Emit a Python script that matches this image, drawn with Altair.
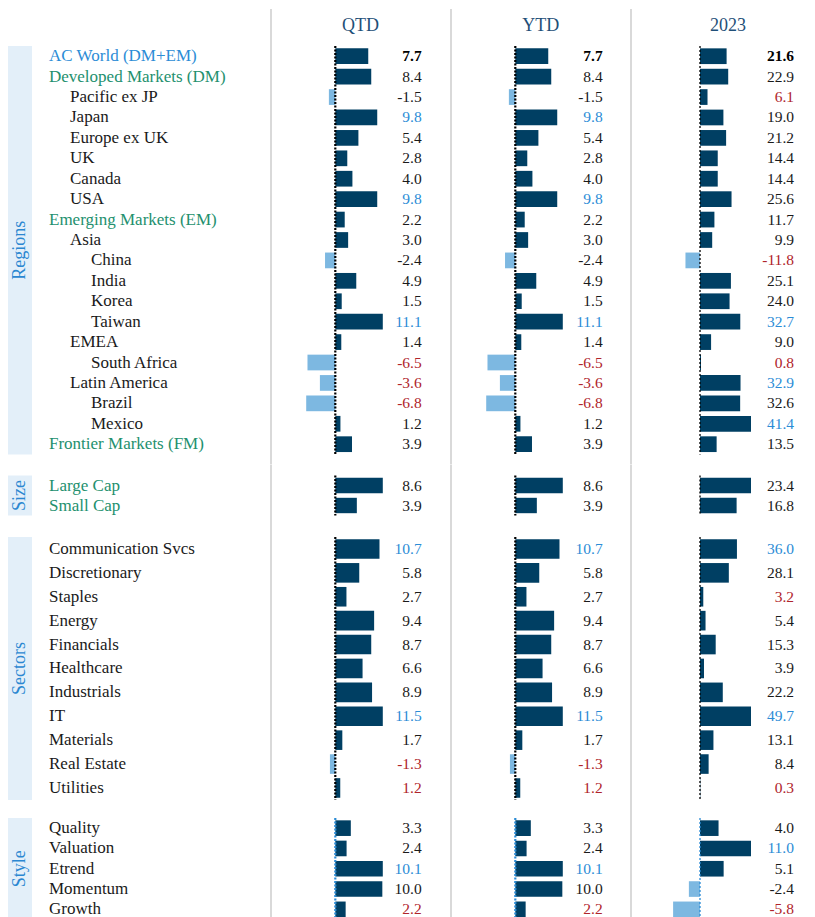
import altair as alt
import pandas as pd

# ---------------- data ----------------
periods = ["QTD", "YTD", "2023"]

region_names = ["AC World (DM+EM)", "Developed Markets (DM)", "Pacific ex JP", "Japan",
                "Europe ex UK", "UK", "Canada", "USA", "Emerging Markets (EM)", "Asia",
                "China", "India", "Korea", "Taiwan", "EMEA", "South Africa",
                "Latin America", "Brazil", "Mexico", "Frontier Markets (FM)"]
region_levels = [0, 0, 1, 1, 1, 1, 1, 1, 0, 1, 2, 2, 2, 2, 1, 2, 1, 2, 2, 0]
region_qtd = [7.7, 8.4, -1.5, 9.8, 5.4, 2.8, 4.0, 9.8, 2.2, 3.0, -2.4, 4.9, 1.5, 11.1,
              1.4, -6.5, -3.6, -6.8, 1.2, 3.9]
region_ytd = [7.7, 8.4, -1.5, 9.8, 5.4, 2.8, 4.0, 9.8, 2.2, 3.0, -2.4, 4.9, 1.5, 11.1,
              1.4, -6.5, -3.6, -6.8, 1.2, 3.9]
region_2023 = [21.6, 22.9, 6.1, 19.0, 21.2, 14.4, 14.4, 25.6, 11.7, 9.9, -11.8, 25.1,
               24.0, 32.7, 9.0, 0.8, 32.9, 32.6, 41.4, 13.5]

size_names = ["Large Cap", "Small Cap"]
size_levels = [0, 0]
size_qtd = [8.6, 3.9]
size_ytd = [8.6, 3.9]
size_2023 = [23.4, 16.8]

sector_names = ["Communication Svcs", "Discretionary", "Staples", "Energy", "Financials",
                "Healthcare", "Industrials", "IT", "Materials", "Real Estate", "Utilities"]
sector_levels = [0] * 11
sector_qtd = [10.7, 5.8, 2.7, 9.4, 8.7, 6.6, 8.9, 11.5, 1.7, -1.3, 1.2]
sector_ytd = [10.7, 5.8, 2.7, 9.4, 8.7, 6.6, 8.9, 11.5, 1.7, -1.3, 1.2]
sector_2023 = [36.0, 28.1, 3.2, 5.4, 15.3, 3.9, 22.2, 49.7, 13.1, 8.4, 0.3]

style_names = ["Quality", "Valuation", "Etrend", "Momentum", "Growth"]
style_levels = [0] * 5
style_qtd = [3.3, 2.4, 10.1, 10.0, 2.2]
style_ytd = [3.3, 2.4, 10.1, 10.0, 2.2]
style_2023 = [4.0, 11.0, 5.1, -2.4, -5.8]

# ---------------- styling ----------------
FONT = "Liberation Serif"
POS = "#003f63"
NEG = "#7db8e1"
GREEN = "#23906e"
BLUE = "#2b8cd6"
RED = "#b0242b"
DARK = "#1a1a1a"
HEAD = "#1f4f78"
SIDE_FILL = "#e3eff9"
SIDE_TEXT = "#2b87d1"
SEP = "#d9d9d9"

W = 799
SEP_X = [263, 443, 623]
ZERO_X = {"QTD": 327.3, "YTD": 507.3, "2023": 692}
HALF_W = {"QTD": 47.5, "YTD": 47.5, "2023": 51}
VAL_X = {"QTD": 413.7, "YTD": 594.7, "2023": 786}
HEAD_X = {"QTD": 352.5, "YTD": 532.8, "2023": 720}
LEVEL_X = [41, 83]

dummy = pd.DataFrame({"d": [0]})


def sep_layers(h):
    return [alt.Chart(dummy).mark_rule(color=SEP, strokeWidth=2).encode(
        x=alt.value(sx), y=alt.value(0), y2=alt.value(h)) for sx in SEP_X]


def section(title, names, levels, vals, step, pad, n_hl, band, axis_color, total_first, group_labels):
    n = len(names)
    h = n * step + 2 * pad
    recs = []
    for p in periods:
        v = vals[p]
        kinds = []
        for i in range(n):
            if total_first and i == 0:
                kinds.append("total")
            elif group_labels and levels[i] == 0:
                kinds.append("agg")
            else:
                kinds.append("item")
        elig = [i for i in range(n) if kinds[i] != "total"]
        order = sorted(elig, key=lambda i: v[i])
        lo = set(order[:n_hl]) if n_hl else set()
        hi = set(order[-n_hl:]) if n_hl else set()
        for i in range(n):
            recs.append({"name": names[i], "level": levels[i], "kind": kinds[i], "period": p,
                         "value": v[i], "label": f"{v[i]:.1f}",
                         "hl": "hi" if i in hi else ("lo" if i in lo else "none")})
    df = pd.DataFrame(recs)
    base = alt.Chart(df)
    Y = alt.Y("name:N", scale=alt.Scale(type="band", domain=names, paddingInner=0,
                                        paddingOuter=pad / step), axis=None, title=None)
    layers = sep_layers(h)
    layers.append(alt.Chart(dummy).mark_rect(fill=SIDE_FILL).encode(
        x=alt.value(0), x2=alt.value(24), y=alt.value(pad), y2=alt.value(h - pad)))
    layers.append(alt.Chart(dummy).mark_text(
        text=title, angle=270, align="center", baseline="middle", font=FONT, fontSize=18,
        color=SIDE_TEXT).encode(x=alt.value(11.5), y=alt.value(h / 2)))
    label_color = (alt.when(alt.datum.kind == "total").then(alt.value(BLUE))
                   .when(alt.datum.kind == "agg").then(alt.value(GREEN))
                   .otherwise(alt.value(DARK)))
    layers.append(base.transform_filter(alt.datum.period == "QTD").mark_text(
        align="left", baseline="middle", font=FONT, fontSize=17).encode(
        x=alt.X("level:Q", scale=alt.Scale(domain=[0, 2], range=LEVEL_X, nice=False), axis=None),
        y=Y, text="name:N", color=label_color))
    for p in periods:
        mx = max(vals[p])
        z = ZERO_X[p]
        w = HALF_W[p]
        layers.append(base.transform_filter(alt.datum.period == p).mark_bar(
            height={"band": band}).encode(
            x=alt.X("value:Q", scale=alt.Scale(domain=[-mx, mx], range=[z - w, z + w],
                                               nice=False, zero=False), axis=None),
            y=Y,
            color=alt.when(alt.datum.value < 0).then(alt.value(NEG)).otherwise(alt.value(POS))))
        thick = p != "2023"
        layers.append(alt.Chart(dummy).mark_rule(
            color=axis_color, strokeWidth=2.2 if thick else 1.3,
            strokeDash=[2, 1.5] if thick else [2, 2]).encode(
            x=alt.value(z), y=alt.value(pad), y2=alt.value(h - pad)))
        val_color = (alt.when(alt.datum.hl == "hi").then(alt.value(BLUE))
                     .when(alt.datum.hl == "lo").then(alt.value(RED))
                     .otherwise(alt.value(DARK)))
        layers.append(base.transform_filter(
            (alt.datum.period == p) & (alt.datum.kind != "total")).mark_text(
            align="right", baseline="middle", font=FONT, fontSize=15.5).encode(
            x=alt.value(VAL_X[p]), y=Y, text="label:N", color=val_color))
        if total_first:
            layers.append(base.transform_filter(
                (alt.datum.period == p) & (alt.datum.kind == "total")).mark_text(
                align="right", baseline="middle", font=FONT, fontSize=15.5,
                fontWeight="bold", color="#000000").encode(
                x=alt.value(VAL_X[p]), y=Y, text="label:N"))
    return alt.layer(*layers).properties(width=W, height=h).resolve_scale(x="independent")


header_h = 27
header_layers = sep_layers(header_h)
for p in periods:
    header_layers.append(alt.Chart(dummy).mark_text(
        text=p, align="center", baseline="middle", font=FONT, fontSize=18, color=HEAD).encode(
        x=alt.value(HEAD_X[p]), y=alt.value(17)))
header = alt.layer(*header_layers).properties(width=W, height=header_h)

regions = section("Regions", region_names, region_levels,
                  {"QTD": region_qtd, "YTD": region_ytd, "2023": region_2023},
                  20.42, 10, 3, 0.77, "#000000", True, True)
sizes = section("Size", size_names, size_levels,
                {"QTD": size_qtd, "YTD": size_ytd, "2023": size_2023},
                20, 10.5, 0, 0.77, "#000000", False, True)
sectors = section("Sectors", sector_names, sector_levels,
                  {"QTD": sector_qtd, "YTD": sector_ytd, "2023": sector_2023},
                  23.9, 11, 2, 0.82, "#000000", False, False)
styles = section("Style", style_names, style_levels,
                 {"QTD": style_qtd, "YTD": style_ytd, "2023": style_2023},
                 20.3, 7, 1, 0.77, BLUE, False, False)

chart = alt.vconcat(header, regions, sizes, sectors, styles, spacing=0, bounds="flush").resolve_scale(
    x="independent", y="independent").properties(padding=0).configure_view(stroke=None)

chart.save("out.html", embed_options={"renderer": "svg", "actions": False})
